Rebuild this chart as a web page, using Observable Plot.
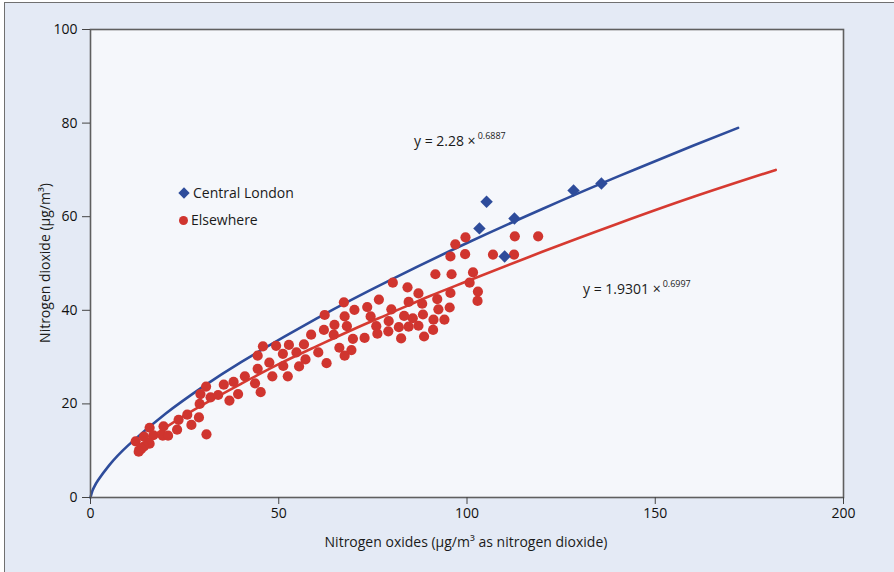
<!DOCTYPE html>
<html>
<head>
<meta charset="utf-8">
<script src="https://cdn.jsdelivr.net/npm/d3@7"></script>
<script src="https://cdn.jsdelivr.net/npm/@observablehq/plot@0.6"></script>
<style>
  body { margin: 0; background: #ffffff; font-family: "Open Sans", "Noto Sans", sans-serif; color: #1a1a1a; }
  #wrap { position: relative; width: 894px; height: 572px; overflow: hidden; }
  #panel { position: absolute; left: 4px; top: 2px; width: 1000px; height: 1000px; background: #e4eaf5;
           border-left: 1.5px solid #707070; border-top: 1.5px solid #707070; }
  #chart { position: absolute; left: 0; top: 0; }
  .lbl { position: absolute; font-size: 14px; white-space: nowrap; color: #1a1a1a; }
  .sup { font-size: 9px; position: relative; top: -7px; margin-left: 2px; }
  .diam { position: absolute; width: 8px; height: 8px; background: #2e4c9b; transform: rotate(45deg); }
  .circ { position: absolute; width: 9px; height: 9px; border-radius: 50%; background: #d0352f; }
</style>
</head>
<body>
<div id="wrap">
  <div id="panel"></div>
  <div id="chart"></div>
</div>
<script>
// ---- data ----
const xTicks = [0, 50, 100, 150, 200];
const yTicks = [0, 20, 40, 60, 80, 100];
const seriesNames = ["Central London", "Elsewhere"];
const xTitle = "Nitrogen oxides (µg/m³ as nitrogen dioxide)";
const yTitle = "Nitrogen dioxide (µg/m³)";
const centralEq = ["y = 2.28 ×", "0.6887"];
const elsewhereEq = ["y = 1.9301 ×", "0.6997"];

const centralX = [103.3, 105.2, 110.0, 112.6, 128.3, 135.7];
const centralY = [57.5, 63.2, 51.5, 59.6, 65.6, 67.1];

const elsewhereX = [45.8, 44.4, 47.5, 44.4, 41.0, 38.0, 35.4, 30.7, 29.2, 31.9, 33.9, 39.2, 36.9, 43.7, 45.2,
  29.0, 25.7, 28.8, 23.4, 26.8, 23.0, 19.4, 15.7, 16.7, 14.2, 12.0, 19.2, 20.6, 30.8, 15.7, 14.2, 13.5, 12.8,
  76.6, 73.5, 70.1, 67.3, 67.5, 74.4, 75.9, 79.2, 79.1, 76.2, 72.8, 69.7, 68.1, 64.8, 64.6, 62.2, 62.0, 58.6,
  66.1, 69.3, 67.5, 62.7, 60.5, 56.7, 57.1, 55.4, 54.7, 52.7, 51.1, 51.2, 52.4, 49.3, 48.3,
  99.6, 96.9, 99.5, 95.6, 112.7, 118.9, 106.9, 112.5, 91.6, 95.9, 101.6, 100.7, 102.9, 102.8, 95.6, 92.1,
  95.4, 92.4, 91.1, 94.0, 91.0, 88.6, 87.1, 88.3, 88.1, 87.1, 84.2, 84.5, 85.6, 83.3, 84.5, 81.9, 82.5, 79.9, 80.3];
const elsewhereY = [32.3, 30.3, 28.8, 27.5, 25.9, 24.7, 24.1, 23.7, 22.1, 21.4, 21.9, 22.1, 20.7, 24.4, 22.5,
  20.0, 17.7, 17.1, 16.6, 15.5, 14.5, 15.2, 14.9, 13.3, 13.0, 12.0, 13.2, 13.2, 13.5, 11.5, 10.9, 10.4, 9.8,
  42.3, 40.7, 40.1, 41.7, 38.7, 38.7, 36.6, 37.7, 35.5, 35.0, 34.1, 33.9, 36.6, 36.9, 34.8, 39.0, 35.8, 34.8,
  32.0, 31.5, 30.3, 28.7, 31.0, 32.7, 29.5, 28.0, 31.0, 32.6, 30.7, 28.1, 25.9, 32.4, 25.9,
  55.6, 54.1, 52.0, 51.5, 55.8, 55.8, 51.9, 51.9, 47.7, 47.7, 48.1, 45.9, 44.0, 42.0, 43.7, 42.4,
  40.6, 40.2, 38.0, 38.0, 35.8, 34.4, 36.7, 39.1, 41.4, 43.6, 44.9, 41.8, 38.3, 38.8, 36.5, 36.4, 34.0, 40.2, 45.9];

// fitted curves, points
const centralFitX = [0, 0.5, 1, 2, 5, 10, 20, 30, 40, 60, 80, 100, 120, 140, 160, 172];
const centralFitY = [0, 1.41, 2.28, 3.67, 6.91, 11.13, 17.94, 23.73, 28.93, 38.24, 46.62, 54.38, 61.65, 68.56, 75.15, 78.98];
const elsewhereFitX = [12, 20, 30, 40, 50, 60, 70, 80, 90, 100, 120, 140, 160, 182];
const elsewhereFitY = [10.5, 15.0, 19.9, 24.3, 28.5, 32.3, 36.0, 39.5, 43.0, 46.2, 52.5, 58.5, 64.2, 70.0];

const zip = (xs, ys) => xs.map((x, i) => ({x, y: ys[i]}));
const central = zip(centralX, centralY);
const elsewhere = zip(elsewhereX, elsewhereY);
const centralFit = zip(centralFitX, centralFitY);
const elsewhereFit = zip(elsewhereFitX, elsewhereFitY);

const blue = "#2e4c9b", red = "#d0352f";

const chart = Plot.plot({
  width: 894, height: 572,
  marginLeft: 90, marginRight: 51, marginTop: 29, marginBottom: 75,
  style: { background: "transparent", fontFamily: "'Open Sans', sans-serif", fontSize: "14px", color: "#111" },
  x: { domain: [0, 200] },
  y: { domain: [0, 100] },
  marks: [
    Plot.frame({ fill: "#f5f7fb", stroke: null }),
    Plot.line(centralFit, { x: "x", y: "y", stroke: blue, strokeWidth: 2.6, curve: "natural" }),
    Plot.line(elsewhereFit, { x: "x", y: "y", stroke: "#d63a31", strokeWidth: 2.6, curve: "natural" }),
    Plot.dot(elsewhere, { x: "x", y: "y", r: 5.1, fill: red, symbol: "circle" }),
    Plot.dot(central, { x: "x", y: "y", r: 5.6, fill: blue, symbol: "diamond2" }),
    Plot.frame({ stroke: "#5f5f5f", strokeWidth: 1.6 }),
    Plot.axisX({ ticks: xTicks, tickSize: 7, tickPadding: 4, label: null, stroke: "#444", fill: "#111" }),
    Plot.axisY({ ticks: yTicks, tickSize: 8, tickPadding: 5, label: null, stroke: "#444", fill: "#111" })
  ]
});
document.getElementById("chart").appendChild(chart);

// titles, legend and equation annotations (HTML text)
const wrap = document.getElementById("wrap");
function addLabel(html, css) {
  const d = document.createElement("div");
  d.className = "lbl";
  d.innerHTML = html;
  Object.assign(d.style, css);
  wrap.appendChild(d);
  return d;
}
addLabel(xTitle, { left: "466px", top: "532px", transform: "translateX(-50%)" });
addLabel(yTitle, { left: "44px", top: "263px", transform: "translate(-50%,-50%) rotate(-90deg)" });
addLabel(centralEq[0] + '<span class="sup">' + centralEq[1] + '</span>', { left: "414px", top: "131px" });
addLabel(elsewhereEq[0] + '<span class="sup">' + elsewhereEq[1] + '</span>', { left: "583px", top: "279px" });

const dm = document.createElement("div"); dm.className = "diam";
Object.assign(dm.style, { left: "180px", top: "189px" }); wrap.appendChild(dm);
addLabel(seriesNames[0], { left: "193px", top: "183px" });
const cm = document.createElement("div"); cm.className = "circ";
Object.assign(cm.style, { left: "178.5px", top: "215.5px" }); wrap.appendChild(cm);
addLabel(seriesNames[1], { left: "191px", top: "210px" });
</script>
</body>
</html>
